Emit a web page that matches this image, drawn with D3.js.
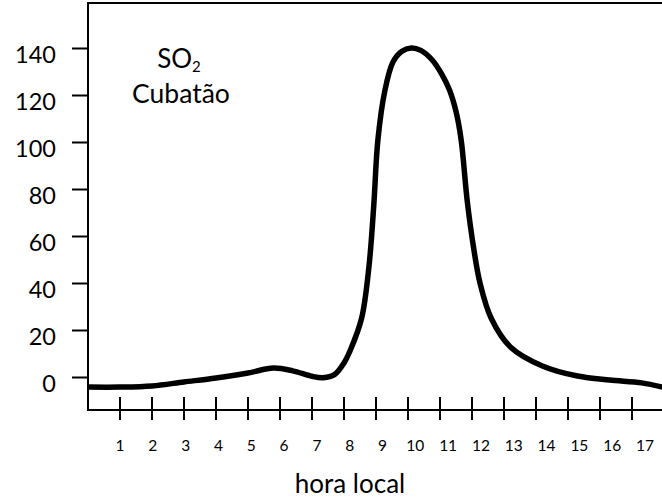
<!DOCTYPE html>
<html>
<head>
<meta charset="utf-8">
<script src="https://cdn.jsdelivr.net/npm/d3@7"></script>
<style>
  body { margin: 0; background: #fff; }
  svg { display: block; font-family: Lato, "Open Sans", sans-serif; }
</style>
</head>
<body>
<div id="chart"></div>
<script>
// SO2 daily cycle, Cubatão
var hours = [0, 1, 2, 3, 4, 5, 5.8, 6.4, 7, 7.35, 7.7, 8.0, 8.2, 8.55, 8.78, 8.93, 9.06, 9.28, 9.53, 9.8,
  10.1, 10.4, 10.75, 11.05, 11.3, 11.5, 11.66, 11.85, 12.05, 12.25, 12.6, 13.2, 14.2, 15.3, 16.3, 17.3, 17.95];
var so2 = [-4.3, -4.3, -3.8, -2.1, -0.4, 1.7, 3.8, 2.6, 0.3, -0.3, 1, 6, 11.5, 25, 47, 73, 101, 122, 134, 138.5,
  140, 139, 135, 129, 122, 113, 101, 75, 55, 40, 25, 12.8, 4.7, 0.4, -1.3, -2.5, -4.3];
var yTicks = [0, 20, 40, 60, 80, 100, 120, 140];
var xTicks = [1, 2, 3, 4, 5, 6, 7, 8, 9, 10, 11, 12, 13, 14, 15, 16, 17];

var width = 662, height = 500;

var svg = d3.select("#chart")
  .append("svg")
  .attr("width", width)
  .attr("height", height);

// scales
var x = d3.scaleLinear().domain([0, 17.9375]).range([88, 662]);
var y = d3.scaleLinear().domain([0, 140]).range([377, 48]);
// tick labels in the figure drift a bit to the right of their ticks
var xLab = d3.scaleLinear().domain([1, 17]).range([120, 645]);

var frameTop = 3, frameBottom = 410;

// frame: top and left lines, bottom axis line
svg.append("path")
  .attr("d", "M" + width + "," + frameTop + "H" + x(0) + "V" + frameBottom + "H" + width)
  .attr("fill", "none")
  .attr("stroke", "#000")
  .attr("stroke-width", 2);

// y axis ticks + labels
var yAxis = svg.append("g")
  .attr("transform", "translate(" + x(0) + ",0)")
  .call(d3.axisLeft(y).tickValues(yTicks).tickSize(16).tickPadding(16))
  .style("font-size", "23.5px")
  .style("font-family", "Lato, sans-serif");
yAxis.select(".domain").remove();
yAxis.selectAll("line").attr("stroke-width", 2);
yAxis.selectAll("text").attr("dy", "0.62em").attr("fill", "#000");

// x ticks crossing the axis
svg.append("g")
  .selectAll("line")
  .data(xTicks)
  .enter()
  .append("line")
  .attr("x1", function (d) { return x(d); })
  .attr("x2", function (d) { return x(d); })
  .attr("y1", frameBottom - 13)
  .attr("y2", frameBottom + 10)
  .attr("stroke", "#000")
  .attr("stroke-width", 2);

svg.append("g")
  .selectAll("text")
  .data(xTicks)
  .enter()
  .append("text")
  .attr("x", function (d) { return xLab(d); })
  .attr("y", 451)
  .attr("text-anchor", "middle")
  .style("font-size", "15.5px")
  .text(function (d) { return d; });

// curve
var line = d3.line()
  .x(function (d, i) { return x(hours[i]); })
  .y(function (d) { return y(d); })
  .curve(d3.curveCatmullRom.alpha(0.5));

svg.append("path")
  .datum(so2)
  .attr("d", line)
  .attr("fill", "none")
  .attr("stroke", "#000")
  .attr("stroke-width", 5.5)
  .attr("stroke-linejoin", "round");

// annotation
var so = svg.append("text")
  .attr("x", 179)
  .attr("y", 68)
  .attr("text-anchor", "middle")
  .style("font-size", "26px");
so.append("tspan").text("SO");
so.append("tspan").attr("dy", 4).style("font-size", "15px").text("2");

svg.append("text")
  .attr("x", 181)
  .attr("y", 103)
  .attr("text-anchor", "middle")
  .style("font-size", "26.5px")
  .text("Cubatão");

// x axis title
svg.append("text")
  .attr("x", 350)
  .attr("y", 493)
  .attr("text-anchor", "middle")
  .style("font-size", "26px")
  .text("hora local");
</script>
</body>
</html>
